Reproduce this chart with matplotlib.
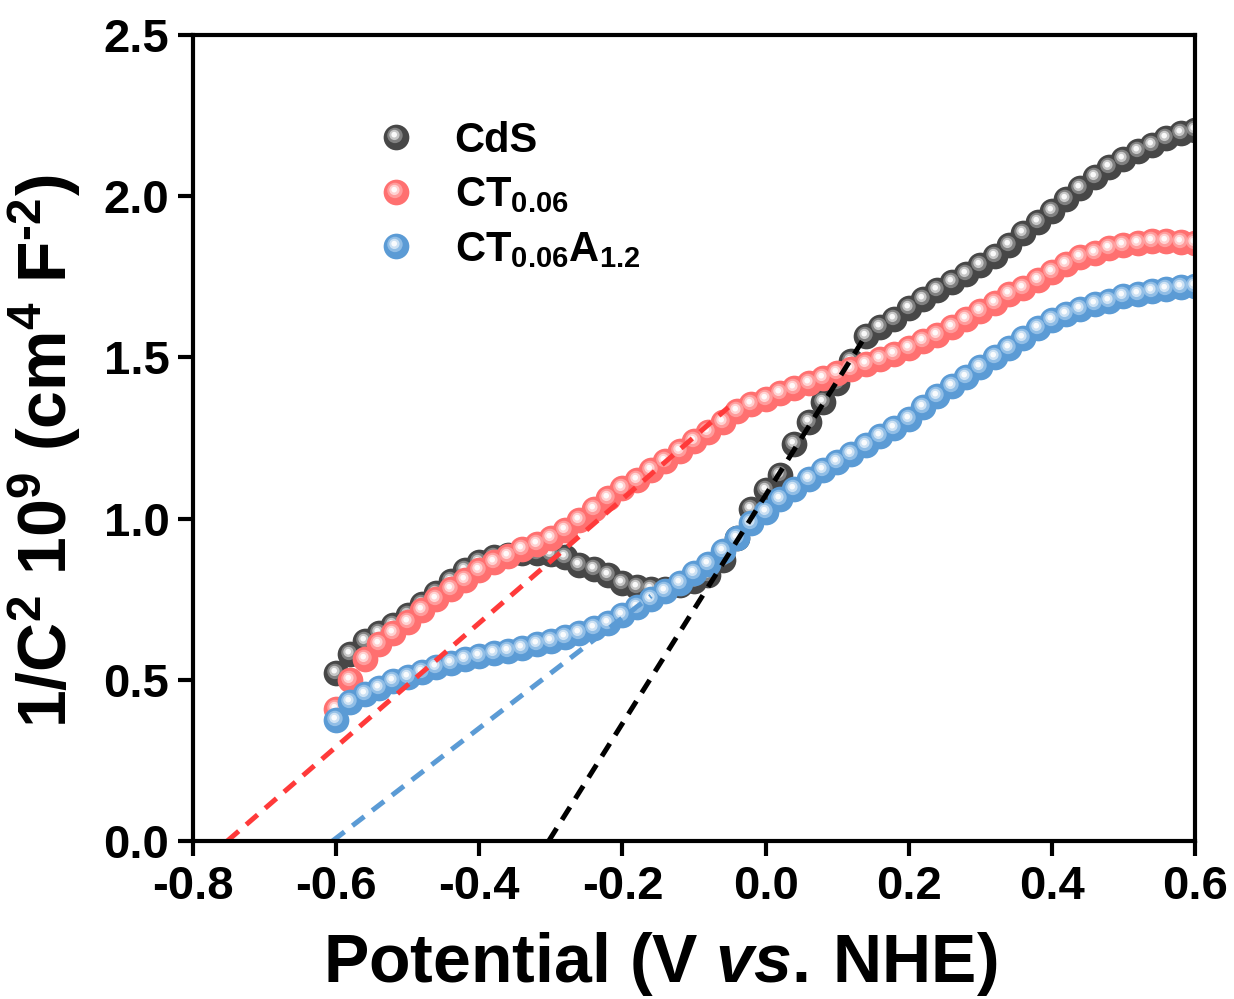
import numpy as np
import matplotlib
matplotlib.use('Agg')
import matplotlib.pyplot as plt
from matplotlib.path import Path
from matplotlib.lines import Line2D
from matplotlib.legend_handler import HandlerTuple
from matplotlib.ticker import FormatStrFormatter

plt.rcParams.update({
    'font.family': 'Liberation Sans',
    'font.weight': 'bold',
    'axes.labelweight': 'bold',
    'mathtext.fontset': 'custom',
    'mathtext.rm': 'Liberation Sans:bold',
    'mathtext.bf': 'Liberation Sans:bold',
    'mathtext.it': 'Liberation Sans:bold:italic',
    'mathtext.default': 'rm',
    'axes.unicode_minus': False,
})

# Mott-Schottky data, potential in V vs. NHE
potential = np.linspace(-0.6, 0.6, 61)

cds = [0.52, 0.58, 0.62, 0.645, 0.67, 0.70, 0.735, 0.77, 0.805, 0.84,
       0.865, 0.88, 0.888, 0.892, 0.892, 0.89, 0.88, 0.857, 0.845, 0.825,
       0.80, 0.787, 0.78, 0.783, 0.795, 0.805, 0.825, 0.87, 0.94, 1.03,
       1.09, 1.135, 1.23, 1.30, 1.36, 1.42, 1.49, 1.565, 1.595, 1.62,
       1.652, 1.68, 1.71, 1.735, 1.76, 1.787, 1.815, 1.85, 1.885, 1.92,
       1.955, 1.99, 2.025, 2.06, 2.09, 2.115, 2.14, 2.16, 2.18, 2.195,
       2.205]

ct = [0.41, 0.50, 0.565, 0.61, 0.645, 0.68, 0.715, 0.75, 0.78, 0.81,
      0.84, 0.865, 0.885, 0.905, 0.92, 0.94, 0.965, 0.995, 1.03, 1.065,
      1.095, 1.12, 1.15, 1.18, 1.21, 1.24, 1.27, 1.30, 1.335, 1.355,
      1.37, 1.39, 1.405, 1.42, 1.435, 1.45, 1.465, 1.48, 1.495, 1.51,
      1.53, 1.55, 1.57, 1.595, 1.62, 1.645, 1.67, 1.695, 1.715, 1.74,
      1.765, 1.79, 1.81, 1.825, 1.84, 1.85, 1.855, 1.86, 1.86, 1.857,
      1.855]

cta = [0.375, 0.43, 0.455, 0.475, 0.495, 0.51, 0.525, 0.54, 0.553, 0.563,
       0.573, 0.583, 0.59, 0.60, 0.61, 0.62, 0.633, 0.645, 0.66, 0.675,
       0.70, 0.725, 0.75, 0.775, 0.80, 0.83, 0.86, 0.90, 0.94, 0.985,
       1.02, 1.06, 1.093, 1.123, 1.15, 1.176, 1.20, 1.228, 1.255, 1.28,
       1.31, 1.345, 1.38, 1.41, 1.44, 1.47, 1.50, 1.53, 1.56, 1.59,
       1.615, 1.635, 1.65, 1.665, 1.675, 1.69, 1.695, 1.705, 1.712, 1.718,
       1.722]

# linear fits (start, end) of the tangent lines
fit_cds_x = [-0.303, 0.135]
fit_cds_y = [0.0, 1.55]
fit_ct_x = [-0.752, -0.052]
fit_ct_y = [0.0, 1.345]
fit_cta_x = [-0.605, -0.16]
fit_cta_y = [0.0, 0.76]

xticks = [-0.8, -0.6, -0.4, -0.2, 0.0, 0.2, 0.4, 0.6]
yticks = [0.0, 0.5, 1.0, 1.5, 2.0, 2.5]

labels = ['CdS', r'CT$_{0.06}$', r'CT$_{0.06}$A$_{1.2}$']
colors = ['#474747', '#ff7070', '#5b9bd5']
glow = ['#9a9a9a', '#ffb0b0', '#a9cdee']
fit_colors = ['#000000', '#ff3a3a', '#5b9bd5']


def blob(cx, cy, r):
    # offset circle marker; the lone moveto keeps the scale equal to 'o'
    circ = Path.circle((cx, cy), r)
    verts = np.vstack([[0.5, 0.5], circ.vertices])
    codes = np.concatenate([[Path.MOVETO], circ.codes])
    return Path(verts, codes)


# shading layers: (marker path, colour kind, alpha)
layers = [(blob(-0.06, 0.08, 0.30), 'glow', 0.7),
          (blob(-0.08, 0.10, 0.20), 'white', 0.55),
          (blob(-0.09, 0.11, 0.11), 'white', 0.9)]

fig = plt.figure(figsize=(12.34, 9.99), dpi=100)
ax = fig.add_axes([0.1564, 0.1582, 0.812, 0.8068])

ms = 18.5
handles = []
for y, c, g in zip([cds, ct, cta], colors, glow):
    ax.plot(potential, y, 'o', ms=ms, color=c, mew=0)
    parts = [Line2D([], [], ls='none', marker='o', ms=ms, color=c, mew=0)]
    for path, kind, a in layers:
        col = g if kind == 'glow' else 'white'
        ax.plot(potential, y, ls='none', marker=path, ms=ms, color=col, mew=0, alpha=a)
        parts.append(Line2D([], [], ls='none', marker=path, ms=ms, color=col, mew=0, alpha=a))
    handles.append(tuple(parts))

for fx, fy, c in zip([fit_cds_x, fit_ct_x, fit_cta_x],
                     [fit_cds_y, fit_ct_y, fit_cta_y], fit_colors):
    ax.plot(fx, fy, color=c, lw=3.6, ls=(0, (3, 2)))

ax.set_xlim(-0.8, 0.6)
ax.set_ylim(0, 2.5)
ax.set_xticks(xticks)
ax.set_yticks(yticks)
ax.xaxis.set_major_formatter(FormatStrFormatter('%.1f'))
ax.yaxis.set_major_formatter(FormatStrFormatter('%.1f'))
ax.tick_params(direction='out', length=11, width=3, labelsize=34, pad=6)
for s in ax.spines.values():
    s.set_linewidth(3)

ax.set_xlabel(r'Potential (V $\mathit{vs.}\,$NHE)', fontsize=49)
ax.xaxis.set_label_coords(0.466, -0.11)
ax.set_ylabel('1/C$^{2}$ 10$^{9}$ (cm$^{4}$ F$^{\u2010 2}$)', fontsize=49)
ax.yaxis.set_label_coords(-0.11, 0.484)

ax.legend(handles, labels, handler_map={tuple: HandlerTuple(ndivide=1)},
          loc='upper left', bbox_to_anchor=(0.155, 0.93), frameon=False,
          fontsize=30, handlelength=0.9, handletextpad=0.95, labelspacing=0.35,
          borderpad=0.2)

fig.savefig('out.png', dpi=100)
